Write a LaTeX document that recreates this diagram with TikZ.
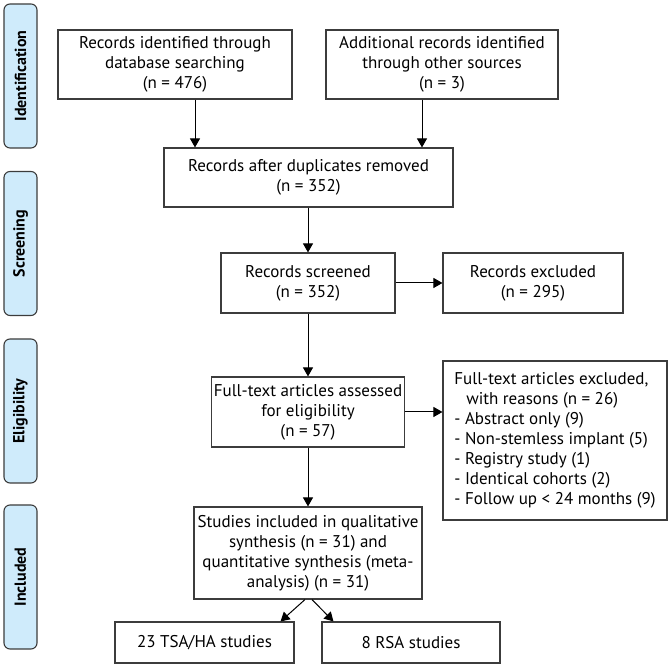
\documentclass[tikz,border=0pt]{standalone}
\usepackage{fontspec}
\setmainfont{PT Sans}
\usepackage{tikz}
\usetikzlibrary{positioning}
\usetikzlibrary{arrows.meta}
\definecolor{phaseblue}{RGB}{207,235,251}
\definecolor{boxline}{RGB}{60,60,60}
\tikzset{
  flowbox/.style = {draw=boxline, line width=1.1pt, align=center, inner sep=2pt,
    font=\fontsize{17}{20}\selectfont},
  phase/.style = {draw=boxline, fill=phaseblue, rounded corners=6pt, line width=1.1pt,
    rotate=90, minimum width=144pt, minimum height=33pt, inner sep=0pt,
    font=\bfseries\fontsize{16}{18}\selectfont},% stage labels on the left
  flow/.style = {-{Triangle[length=9pt,width=10pt]}, line width=1pt, black},
}

\begin{document}
\begin{tikzpicture}[x=1pt,y=1pt]
\useasboundingbox (0,0) rectangle (671,668);
% stages
\node [phase] (ident) at (20.5,592) {Identification};
\node [phase] (screen) at (20.5,424.5) {Screening};
\node [phase] (elig) at (20.5,257) {Eligibility};
\node [phase] (incld) at (20.5,91) {Included};
% boxes
\node [flowbox, minimum width=234pt, minimum height=69pt] (db) at (175,603.5)
  {Records identified through\\database searching\\(n = 476)};
\node [flowbox, minimum width=232pt, minimum height=69pt] (other) at (442,603.5)
  {Additional records identified\\through other sources\\(n = 3)};
\node [flowbox, minimum width=289pt, minimum height=59pt] (dup) at (308.5,490.5)
  {Records after duplicates removed\\(n = 352)};
\node [flowbox, minimum width=174pt, minimum height=60pt] (screened) at (308,385)
  {Records screened\\(n = 352)};
\node [flowbox, minimum width=180pt, minimum height=60pt] (excl) at (533,385)
  {Records excluded\\(n = 295)};
\node [flowbox, minimum width=190pt, minimum height=70pt] (full) at (308,256)
  {Full-text articles assessed\\for eligibility\\(n = 57)};
\node [flowbox, align=left, minimum width=224pt, minimum height=159pt] (fexcl) at (555,227.5)
  {Full-text articles excluded,\\\hspace*{0.7em}with reasons (n = 26)\\- Abstract only (9)\\- Non-stemless implant (5)\\- Registry study (1)\\- Identical cohorts (2)\\- Follow up < 24 months (9)};
\node [flowbox, minimum width=228pt, minimum height=92pt] (incl) at (308,115)
  {Studies included in qualitative\\synthesis (n = 31) and\\quantitative synthesis (meta-\\analysis) (n = 31)};
\node [flowbox, minimum width=179pt, minimum height=41pt] (tsa) at (204.5,25.5)
  {23 TSA/HA studies};
\node [flowbox, minimum width=178pt, minimum height=41pt] (rsa) at (411,25.5)
  {8 RSA studies};
% arrows
\draw [flow] ([xshift=20pt]db.south) -- ([xshift=20pt]db.south |- dup.north);
\draw [flow] ([xshift=-20pt]other.south) -- ([xshift=-20pt]other.south |- dup.north);
\draw [flow] (screened.north |- dup.south) -- (screened.north);
\draw [flow] (screened.east) -- (excl.west);
\draw [flow] (screened.south) -- (full.north);
\draw [flow] (full.east) -- (full.east -| fexcl.west);
\draw [flow] (full.south) -- (incl.north);
\draw [flow] ([xshift=-3pt]incl.south) -- ([xshift=-14pt]tsa.north east);
\draw [flow] ([xshift=4pt]incl.south) -- ([xshift=12pt]rsa.north west);
\end{tikzpicture}
\end{document}
